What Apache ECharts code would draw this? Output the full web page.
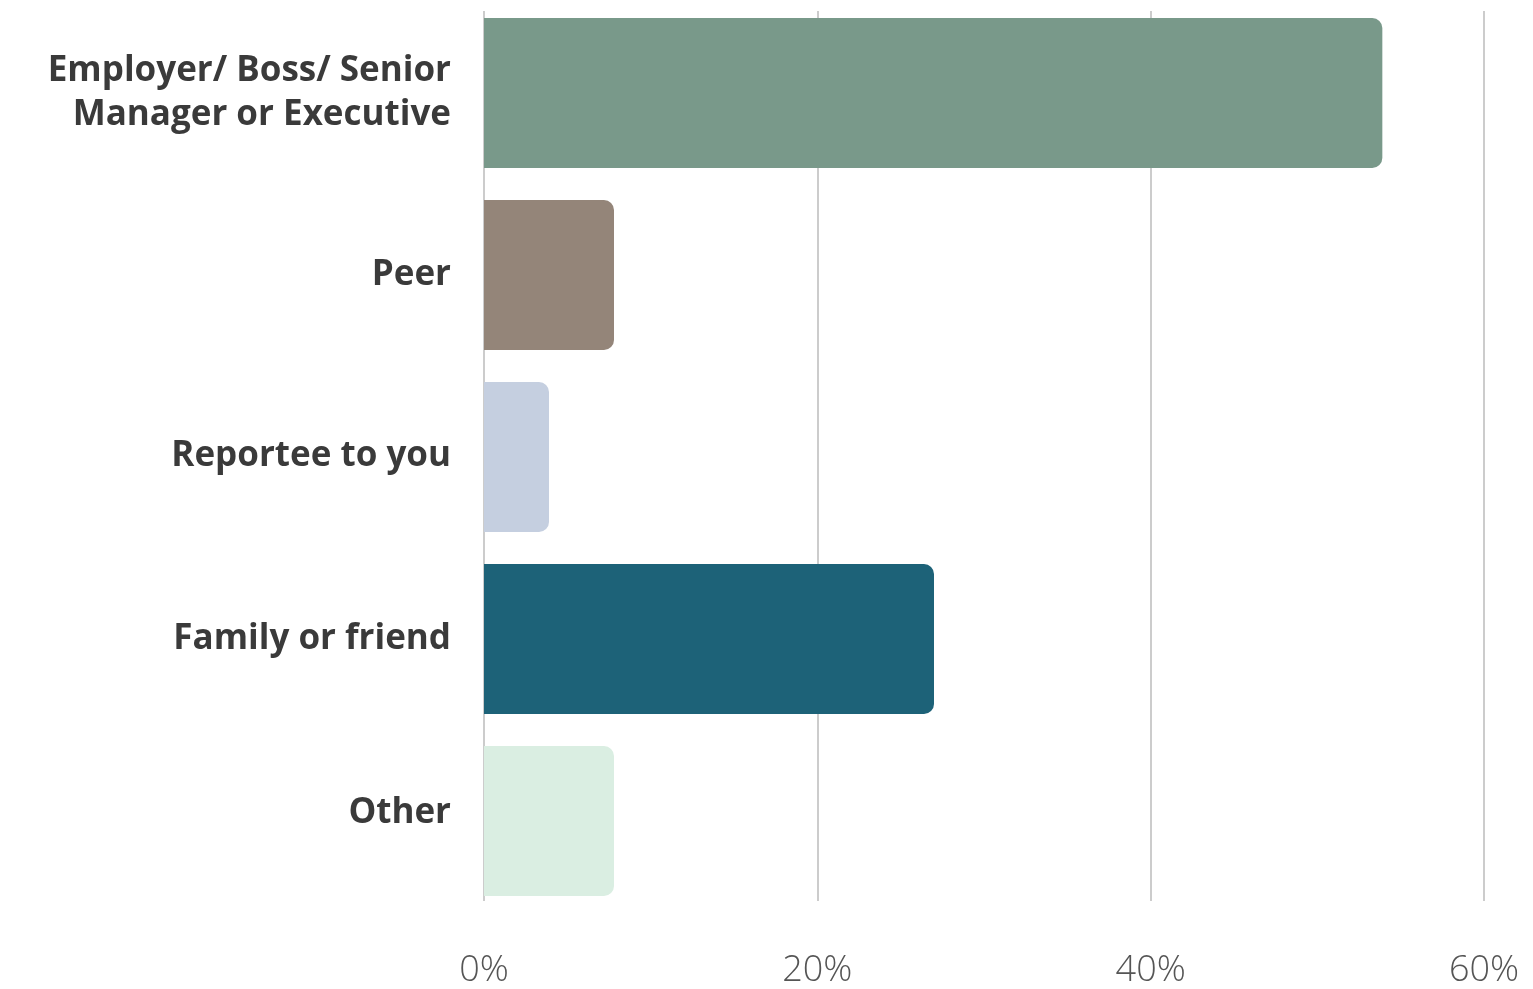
<!DOCTYPE html>
<html>
<head>
<meta charset="utf-8">
<script src="https://cdn.jsdelivr.net/npm/echarts@6/dist/echarts.min.js"></script>
<style>html,body{margin:0;padding:0;background:#fff}#c{width:1533px;height:989px}</style>
</head>
<body>
<div id="c"></div>
<script>
const categories = ['Employer/ Boss/ Senior\nManager or Executive', 'Peer', 'Reportee to you', 'Family or friend', 'Other'];
const values = [53.9, 7.8, 3.9, 27.0, 7.8];
const colors = ['#79998a', '#948579', '#c5cfe0', '#1d6278', '#daeee2'];
const xTicks = [0, 20, 40, 60];
const labelLift = [0, 0, 2, 0, 16];

const baseText = { fontFamily: 'Open Sans', fontWeight: 'bold', fontSize: 35, lineHeight: 44, color: '#3a3a3a', align: 'right' };
const rich = { n: Object.assign({}, baseText) };
labelLift.forEach((p, i) => { rich['p' + i] = Object.assign({}, baseText, { padding: [0, 0, p, 0] }); });

const chart = echarts.init(document.getElementById('c'));
chart.setOption({
  animation: false,
  grid: [
    { left: 484, right: 49, top: 2, height: 910 },
    { left: 484, right: 49, top: 11, height: 892 }
  ],
  xAxis: [
    { gridIndex: 0, type: 'value', min: 0, max: 60, interval: 20, show: false },
    { gridIndex: 1, type: 'value', min: xTicks[0], max: xTicks[xTicks.length - 1], interval: 20,
      axisLine: { show: false }, axisTick: { show: false },
      splitLine: { show: true, lineStyle: { color: '#cccccc', width: 2 } },
      axisLabel: { formatter: v => v + '%', fontFamily: 'Open Sans', fontWeight: 300, fontSize: 36, color: '#555555', margin: 52 } }
  ],
  yAxis: [
    { gridIndex: 0, type: 'category', inverse: true, data: categories,
      axisLine: { show: false }, axisTick: { show: false },
      axisLabel: Object.assign({}, baseText, {
        margin: 33,
        rich: rich,
        formatter: (val, idx) => {
          const lines = val.split('\n');
          return lines.map((s, k) => k === lines.length - 1 ? `{p${idx}|${s}}` : `{n|${s}}`).join('\n');
        }
      }) },
    { gridIndex: 1, type: 'category', data: [''], show: false }
  ],
  series: [{
    type: 'bar', xAxisIndex: 0, yAxisIndex: 0, barWidth: 150, z: 3,
    data: values.map((v, i) => ({ value: v, itemStyle: { color: colors[i], borderRadius: [0, 10, 10, 0] } }))
  }]
});
</script>
</body>
</html>
